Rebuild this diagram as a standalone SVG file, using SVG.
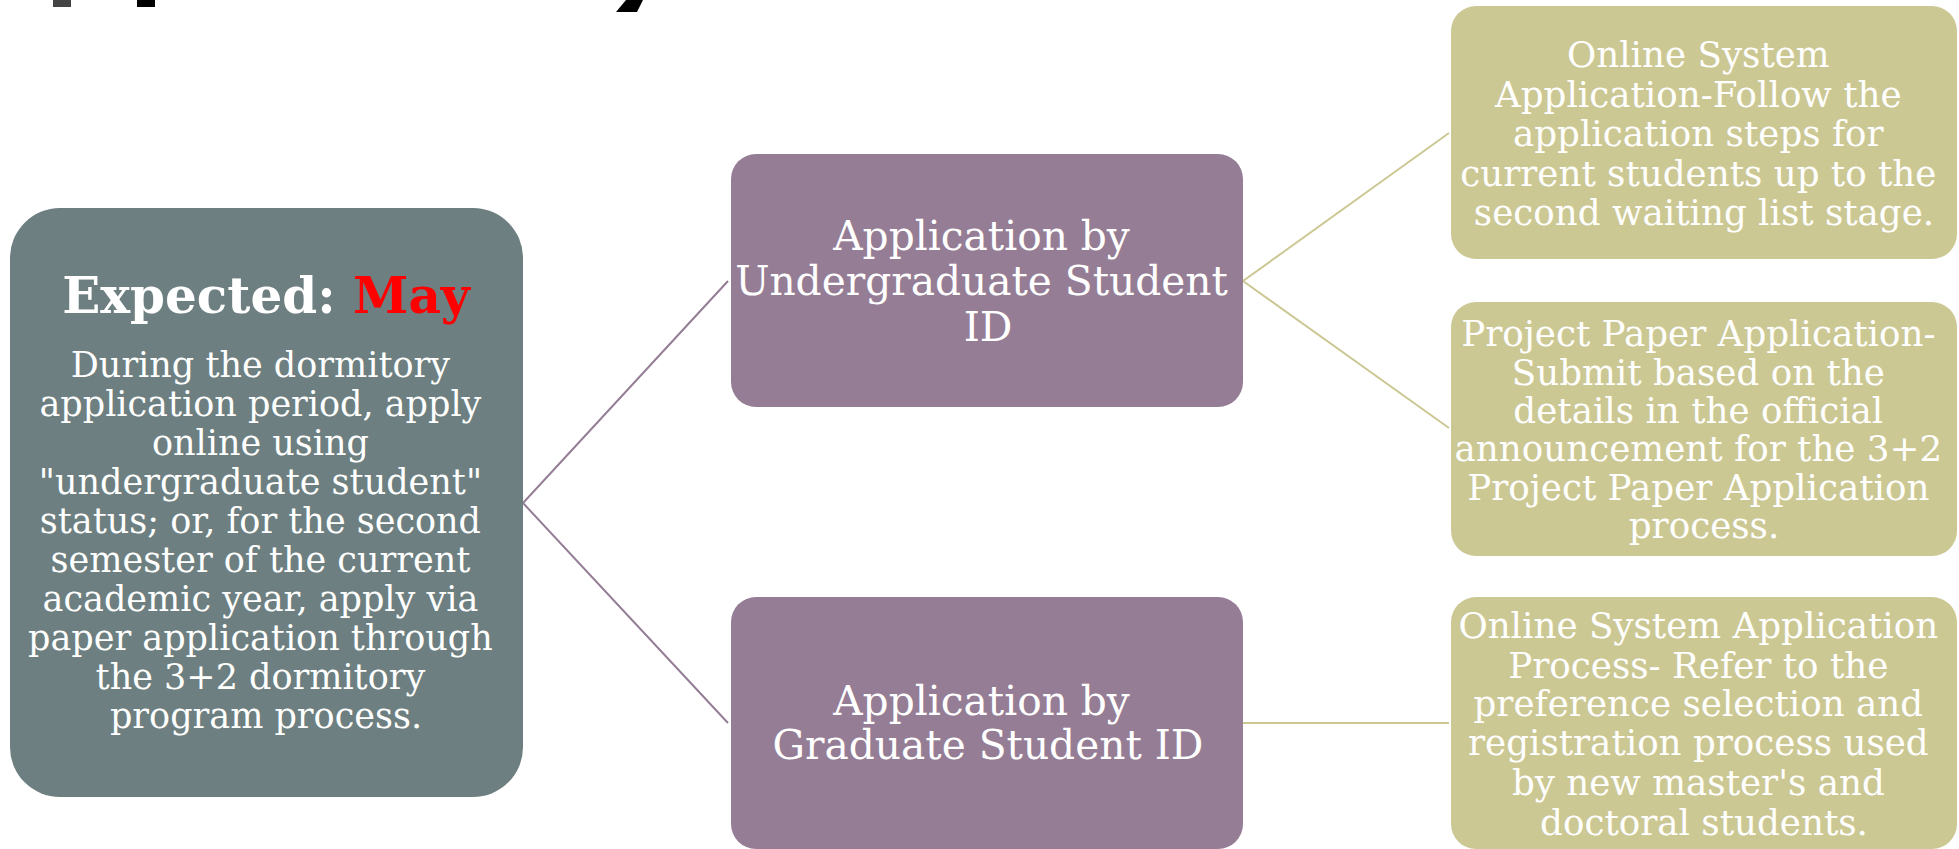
<svg xmlns="http://www.w3.org/2000/svg" width="1959" height="849" viewBox="0 0 1959 849">
<style>
.t{font-family:"DejaVu Serif","Liberation Serif",serif;fill:#ffffff;text-anchor:middle}
.l{font-size:35px}
.m{font-size:40.7px}
.r{font-size:35.7px}
.h{font-family:"DejaVu Serif","Liberation Serif",serif;font-weight:bold;font-size:50px;text-anchor:middle;fill:#ffffff}
.cp{stroke:#957D95;stroke-width:2;fill:none}
.ck{stroke:#CCC894;stroke-width:2;fill:none}
</style>
<rect width="1959" height="849" fill="#ffffff"/>
<g id="fragments" fill="#000000">
<rect x="53" y="0" width="18" height="7" fill="#444444"/>
<rect x="137" y="0" width="18" height="7"/>
<polygon points="626,0 643,0 637,12 616,12"/>
</g>
<g id="connectors">
<polyline class="cp" points="728,281 523,503 728,723"/>
<polyline class="ck" points="1449,133 1243,281 1449,428"/>
<line class="ck" x1="1243" y1="723" x2="1449" y2="723"/>
</g>
<g id="expected">
<rect x="10" y="208" width="513" height="589" rx="50" fill="#6D7F80"/>
<text class="h" x="266" y="313">Expected: <tspan fill="#FF0000">May</tspan></text>
<text class="t l">
<tspan x="266" y="377">During the dormitory</tspan>
<tspan x="266" y="416">application period, apply</tspan>
<tspan x="266" y="455">online using</tspan>
<tspan x="266" y="494">"undergraduate student"</tspan>
<tspan x="266" y="533">status; or, for the second</tspan>
<tspan x="266" y="572">semester of the current</tspan>
<tspan x="266" y="611">academic year, apply via</tspan>
<tspan x="266" y="650">paper application through</tspan>
<tspan x="266" y="689">the 3+2 dormitory</tspan>
<tspan x="266" y="728">program process.</tspan>
</text>
</g>
<g id="undergrad">
<rect x="731" y="154" width="512" height="253" rx="25" fill="#957D95"/>
<text class="t m">
<tspan x="988" y="250">Application by</tspan>
<tspan x="988" y="295">Undergraduate Student</tspan>
<tspan x="988" y="341">ID</tspan>
</text>
</g>
<g id="grad">
<rect x="731" y="597" width="512" height="252" rx="25" fill="#957D95"/>
<text class="t m">
<tspan x="988" y="715">Application by</tspan>
<tspan x="988" y="759">Graduate Student ID</tspan>
</text>
</g>
<g id="online-ug">
<rect x="1451" y="6" width="506" height="253" rx="25" fill="#CCC894"/>
<text class="t r">
<tspan x="1704" y="67">Online System</tspan>
<tspan x="1704" y="107">Application-Follow the</tspan>
<tspan x="1704" y="146">application steps for</tspan>
<tspan x="1704" y="186">current students up to the</tspan>
<tspan x="1704" y="225">second waiting list stage.</tspan>
</text>
</g>
<g id="paper">
<rect x="1451" y="302" width="506" height="254" rx="25" fill="#CCC894"/>
<text class="t r">
<tspan x="1704" y="346">Project Paper Application-</tspan>
<tspan x="1704" y="385">Submit based on the</tspan>
<tspan x="1704" y="423">details in the official</tspan>
<tspan x="1704" y="461">announcement for the 3+2</tspan>
<tspan x="1704" y="500">Project Paper Application</tspan>
<tspan x="1704" y="538">process.</tspan>
</text>
</g>
<g id="online-grad">
<rect x="1451" y="597" width="506" height="252" rx="25" fill="#CCC894"/>
<text class="t r">
<tspan x="1704" y="638">Online System Application</tspan>
<tspan x="1704" y="678">Process- Refer to the</tspan>
<tspan x="1704" y="716">preference selection and</tspan>
<tspan x="1704" y="755">registration process used</tspan>
<tspan x="1704" y="795">by new master's and</tspan>
<tspan x="1704" y="835">doctoral students.</tspan>
</text>
</g>
</svg>
